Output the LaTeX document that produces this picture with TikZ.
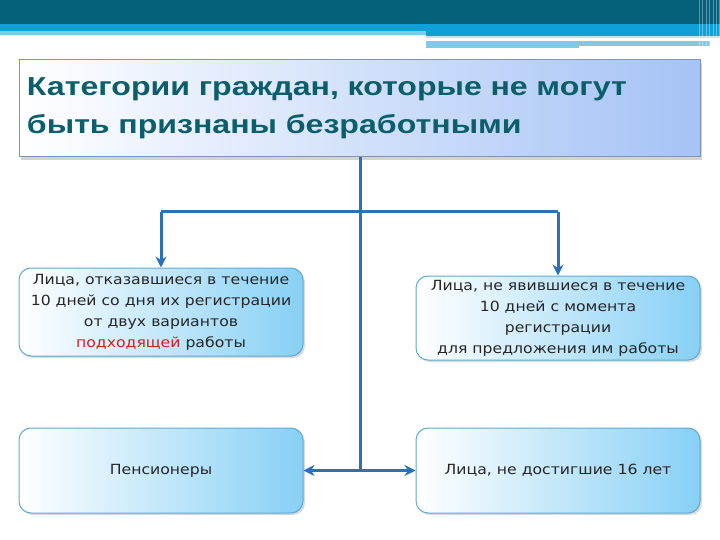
\documentclass[tikz,border=0pt]{standalone}
\usepackage{fontspec}
\setmainfont[FakeStretch=1.12]{DejaVu Sans}
\newfontfamily\headfont[FakeStretch=1.235]{Liberation Sans}
\usetikzlibrary{positioning,arrows.meta,shadows}
\definecolor{bardark}{RGB}{5,96,122}
\definecolor{barblue}{RGB}{16,160,216}
\definecolor{barlight}{RGB}{130,200,232}
\definecolor{headtext}{RGB}{12,94,106}
\definecolor{headedge}{RGB}{125,150,180}
\definecolor{headblue}{RGB}{165,195,245}
\definecolor{boxedge}{RGB}{95,170,210}
\definecolor{boxblue}{RGB}{135,208,245}
\definecolor{linkblue}{RGB}{46,112,184}
\definecolor{redword}{RGB}{212,30,30}
\tikzset{
    headbox/.style={draw=headedge, line width=1pt, left color=white, right color=headblue,
        minimum width=681pt, minimum height=97pt, text width=665pt, align=left,
        font=\headfont\bfseries\fontsize{26}{38}\selectfont, text=headtext,
        drop shadow={opacity=.35, shadow xshift=2pt, shadow yshift=-3pt}},
    catbox/.style={draw=boxedge, line width=1pt, rounded corners=12pt,
        left color=white, right color=boxblue, minimum width=284pt, align=center,
        font=\fontsize{14}{21}\selectfont, text=black!85,
        drop shadow={opacity=.3, shadow xshift=2pt, shadow yshift=-2pt}},
    link/.style={draw=linkblue, line width=3pt},
    linkarrow/.style={link, -{Stealth[length=11pt,width=11pt]}},
}
\begin{document}
\begin{tikzpicture}[x=1pt, y=-1pt]
	\useasboundingbox (0,0) rectangle (720,540);
	% header stripes
	\fill[bardark] (0,0) rectangle (720,24);
	\fill[barblue] (0,24) rectangle (720,31);
	\fill[barlight] (0,31) rectangle (426,35);
	\fill[barblue] (426,31) rectangle (720,36);
	\fill[barlight!50] (426,36) rectangle (720,38);
	\fill[barlight] (426,41) rectangle (579,48);
	\fill[barlight] (579,41) rectangle (710,46);
	\foreach \xs in {699,702,706,709,713,716,719}
		\draw[white, opacity=.35, line width=1pt] (\xs,0) -- (\xs,48);
	\draw[headedge!50, line width=.8pt] (18,59.5) -- (700,59.5);

	\node[headbox] (title) at (359.5,108.5) {Категории граждан, которые не могут\\быть признаны безработными};

	\node[catbox, minimum height=88pt] (refused) at (161,312) {Лица, отказавшиеся в течение\\10 дней со дня их регистрации\\от двух вариантов\\\textcolor{redword}{подходящей} работы};
	\node[catbox, minimum height=84pt] (absent) at (558,318) {Лица, не явившиеся в течение\\10 дней с момента\\регистрации\\для предложения им работы};
	\node[catbox, minimum height=85pt] (pension) at (161,470.5) {Пенсионеры};
	\node[catbox, minimum height=85pt] (young) at (558,470.5) {Лица, не достигшие 16 лет};

	\coordinate (split) at (360,212);
	\coordinate (hub) at (360,470.5);
	\draw[link] (title.south -| split) -- (hub);
	\draw[link] (refused.north |- split) -- (absent.north |- split);
	\draw[linkarrow] (refused.north |- split) -- (refused.north);
	\draw[linkarrow] (absent.north |- split) -- (absent.north);
	\draw[linkarrow] (hub) -- (pension.east);
	\draw[linkarrow] (hub) -- (young.west);
\end{tikzpicture}
\end{document}
